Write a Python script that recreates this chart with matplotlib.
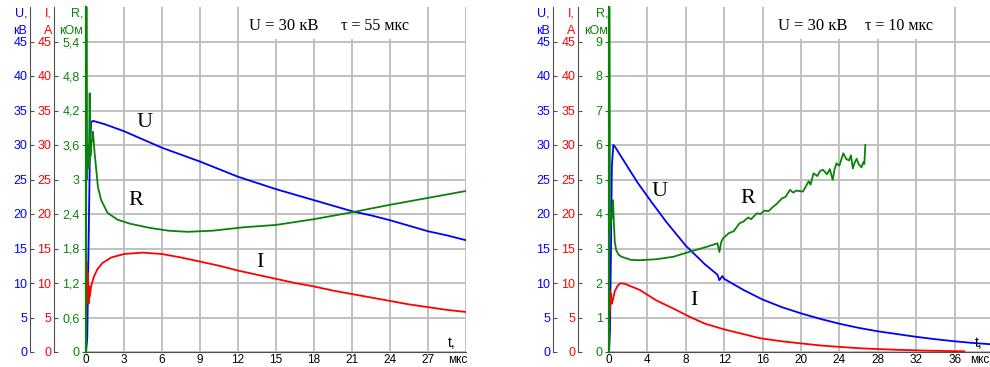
import matplotlib
matplotlib.use('Agg')
import matplotlib.pyplot as plt
from matplotlib.patches import Rectangle

plt.rcParams['font.family'] = ['Liberation Sans', 'DejaVu Sans']

# ---------------- data: left panel (tau = 55 us) ----------------
title1_a = "U = 30 кВ"
title1_b = "τ = 55 мкс"
t_u1 = [0, 0.1, 0.2, 0.3, 0.4, 0.55, 1.5, 3, 4.5, 6, 7.5, 9, 10.5, 12, 13.5, 15,
        16.5, 18, 19.5, 21, 22.5, 24, 25.5, 27, 28.5, 30]
u1 = [0, 2, 15, 28, 33.3, 33.5, 33.0, 32.0, 30.8, 29.6, 28.6, 27.6, 26.5, 25.4, 24.5, 23.6,
      22.8, 22.0, 21.2, 20.4, 19.8, 19.1, 18.3, 17.5, 16.9, 16.2]
t_i1 = [0, 0.05, 0.1, 0.15, 0.2, 0.25, 0.3, 0.4, 0.6, 0.9, 1.3, 2, 3, 4.5, 6, 7.5, 9,
        10.5, 12, 13.5, 15, 16.5, 18, 19.5, 21, 22.5, 24, 25.5, 27, 28.5, 30]
i1 = [0, 13, 8, 11.5, 7, 9.5, 8.0, 9.5, 10.8, 12.0, 12.9, 13.7, 14.2, 14.4, 14.2, 13.7, 13.1,
      12.5, 11.8, 11.2, 10.6, 10.0, 9.5, 8.9, 8.4, 7.9, 7.4, 6.9, 6.5, 6.1, 5.8]
t_r1 = [0, 0.03, 0.08, 0.15, 0.22, 0.29, 0.35, 0.42, 0.5, 0.55, 0.68, 0.81, 0.94, 1.2, 1.7,
        2.5, 3.5, 5, 6.5, 8, 10, 12.5, 15, 18, 21, 24, 27, 30]
r1 = [0, 7, 3.0, 3.6, 3.2, 4.5, 3.4, 3.63, 3.7, 3.83, 3.46, 3.17, 2.87, 2.64, 2.42,
      2.30, 2.23, 2.16, 2.11, 2.09, 2.11, 2.17, 2.21, 2.31, 2.43, 2.56, 2.68, 2.80]
r1_ticks = [0, 0.6, 1.2, 1.8, 2.4, 3.0, 3.6, 4.2, 4.8, 5.4]
r1_labels = ["0", "0,6", "1,2", "1,8", "2,4", "3", "3,6", "4,2", "4,8", "5,4"]
x1_ticks = [0, 3, 6, 9, 12, 15, 18, 21, 24, 27, 30]
x1_labels = ["0", "3", "6", "9", "12", "15", "18", "21", "24", "27", ""]

# ---------------- data: right panel (tau = 10 us) ----------------
title2_a = "U = 30 кВ"
title2_b = "τ = 10 мкс"
t_u2 = [0, 0.1, 0.2, 0.3, 0.45, 0.6, 1.5, 3, 4.5, 6, 8, 10, 11.3, 11.5, 11.8, 12, 14, 16,
        18, 20, 22, 24, 26, 28, 30, 32, 34, 36, 38, 40]
u2 = [0, 3, 14, 27, 30.0, 29.8, 27.8, 24.5, 21.6, 18.8, 15.4, 12.7, 11.2, 10.4, 11.0, 10.6,
      9.0, 7.6, 6.5, 5.6, 4.8, 4.1, 3.5, 3.0, 2.6, 2.2, 1.85, 1.55, 1.3, 1.1]
t_i2 = [0, 0.05, 0.1, 0.2, 0.28, 0.4, 0.6, 0.9, 1.15, 1.6, 3.2, 4.9, 6.7, 8.4, 10, 12.2,
        14, 15.7, 18, 19.9, 22, 23.7, 26, 27.9, 30, 33.1, 35, 37]
i2 = [0, 9, 6, 8.5, 7.0, 7.5, 8.8, 9.6, 9.95, 9.9, 9.0, 7.5, 6.3, 5.1, 4.1, 3.2,
      2.6, 2.0, 1.55, 1.26, 0.95, 0.77, 0.55, 0.43, 0.32, 0.2, 0.15, 0.1]
t_r2 = [0, 0.03, 0.1, 0.2, 0.3, 0.42, 0.5, 0.6, 0.75, 1.0, 1.3, 2.3, 3.2, 4.95, 6.7, 8.45,
        10.2, 11.3, 11.5, 11.7, 11.9, 12.5, 13.0, 13.3, 13.6, 14.0, 14.5, 14.8, 15.4, 15.8,
        16.2, 16.6, 17.1, 17.5, 18.0, 18.4, 18.85, 19.2, 19.5, 20.2, 20.5, 20.8, 21.0, 21.3,
        21.7, 22.0, 22.3, 22.7, 23.0, 23.3, 23.5, 23.7, 24.0, 24.4, 24.7, 25.0, 25.2, 25.4,
        25.6, 25.8, 26.0, 26.3, 26.5, 26.6, 26.7]
r2 = [0, 10.5, 3.5, 3.8, 3.9, 4.4, 3.8, 3.2, 2.95, 2.82, 2.76, 2.67, 2.66, 2.69, 2.76, 2.91,
      3.05, 3.15, 2.9, 3.2, 3.3, 3.45, 3.5, 3.62, 3.73, 3.78, 3.9, 3.85, 4.02, 4.0,
      4.1, 4.08, 4.21, 4.3, 4.45, 4.5, 4.7, 4.62, 4.68, 4.65, 4.8, 4.95, 4.85, 5.18,
      5.1, 5.25, 5.28, 5.15, 5.3, 4.99, 5.3, 5.47, 5.4, 5.76, 5.6, 5.55, 5.7, 5.32,
      5.5, 5.6, 5.45, 5.35, 5.5, 5.45, 6.0]
r2_ticks = [0, 1, 2, 3, 4, 5, 6, 7, 8, 9]
r2_labels = ["0", "1", "2", "3", "4", "5", "6", "7", "8", "9"]
x2_ticks = [0, 4, 8, 12, 16, 20, 24, 28, 32, 36, 40]
x2_labels = ["0", "4", "8", "12", "16", "20", "24", "28", "32", "36", ""]

ui_ticks = [0, 5, 10, 15, 20, 25, 30, 35, 40, 45]

# ---------------- style ----------------
BLUE = '#0000ff'
RED = '#ff0000'
GREEN = '#0a820a'
GRID = '#bcbcbc'
SPINE = '#505050'
W, H = 990, 367
DPI = 100

fig = plt.figure(figsize=(W / DPI, H / DPI), dpi=DPI)


def pt(px):
    return px * 72.0 / DPI


def fx(px):
    return px / W


def fy(py):
    return 1 - py / H


def panel(x0px, x1px, xmax, xticks, xlabels, t_u, u, t_i, i, t_r, r, rmax, rticks, rlabels,
          u_spine_px, i_spine_px, box, title_a, title_b, ta_x, tb_x, lab_pos):
    top_px, bot_px = 7, 352
    rect = [fx(x0px), fy(bot_px), (x1px - x0px) / W, (bot_px - top_px) / H]
    ax = fig.add_axes(rect)
    ax.set_xlim(0, xmax)
    ax.set_ylim(0, 50)
    ax.set_axisbelow(True)
    ax.set_xticks(xticks)
    ax.set_xticklabels(xlabels)
    ax.set_yticks(ui_ticks)
    ax.grid(True, color=GRID, lw=1.3)
    for s in ['top', 'right']:
        ax.spines[s].set_visible(False)
    ax.spines['bottom'].set_color(SPINE)
    ax.spines['left'].set_position(('outward', pt(x0px - u_spine_px)))
    ax.spines['left'].set_color(SPINE)
    ax.tick_params(axis='y', direction='in', length=3, pad=2, colors=SPINE,
                   labelcolor=BLUE, labelsize=9)
    ax.tick_params(axis='x', length=0, pad=1.5, labelsize=8.5, labelcolor='black')

    # white box behind the title
    ax.add_patch(Rectangle((box[0], 45.35), box[1] - box[0], 5.5, facecolor='white',
                           edgecolor='none', zorder=1, clip_on=False))

    ax.plot(t_u, u, color=BLUE, lw=1.3, zorder=3)
    ax.plot(t_i, i, color=RED, lw=1.3, zorder=3)

    # I axis
    axi = fig.add_axes(rect, sharex=ax)
    axi.patch.set_visible(False)
    axi.set_ylim(0, 50)
    axi.set_yticks(ui_ticks)
    for s in ['top', 'right', 'bottom']:
        axi.spines[s].set_visible(False)
    axi.spines['left'].set_position(('outward', pt(x0px - i_spine_px)))
    axi.spines['left'].set_color(SPINE)
    axi.tick_params(axis='y', direction='in', length=3, pad=2, colors=SPINE,
                    labelcolor=RED, labelsize=9)
    axi.xaxis.set_visible(False)
    axi.grid(False)

    # R axis
    axr = fig.add_axes(rect, sharex=ax)
    axr.patch.set_visible(False)
    axr.set_ylim(0, rmax)
    axr.set_yticks(rticks)
    axr.set_yticklabels(rlabels)
    for s in ['top', 'right', 'bottom']:
        axr.spines[s].set_visible(False)
    axr.spines['left'].set_color(GREEN)
    axr.spines['left'].set_linewidth(1.6)
    axr.tick_params(axis='y', direction='out', length=3, pad=1.5, colors=GREEN,
                    labelcolor=GREEN, labelsize=9)
    axr.xaxis.set_visible(False)
    axr.plot(t_r, r, color=GREEN, lw=1.3, zorder=3)

    # title
    ax.text(ta_x, 47.3, title_a, ha='center', va='center', fontsize=12,
            family=['Liberation Serif', 'DejaVu Serif'], zorder=5)
    ax.text(tb_x, 47.3, title_b, ha='center', va='center', fontsize=11.5,
            family=['Liberation Serif', 'DejaVu Serif'], zorder=5)

    # curve labels
    for txt, (tx, ty) in lab_pos.items():
        ax.text(tx, ty, txt, ha='center', va='center', fontsize=16,
                family=['Liberation Serif', 'DejaVu Serif'], zorder=5)
    return ax


panel(86, 466, 30, x1_ticks, x1_labels, t_u1, u1, t_i1, i1, t_r1, r1, 6.0, r1_ticks, r1_labels,
      30, 54, (12.15, 26.85), title1_a, title1_b, 15.6, 22.8,
      {'U': (4.65, 33.3), 'R': (3.94, 21.9), 'I': (13.7, 12.9)})
panel(609, 993, 40, x2_ticks, x2_labels, t_u2, u2, t_i2, i2, t_r2, r2, 10.0, r2_ticks, r2_labels,
      553, 578, (16.15, 35.85), title2_a, title2_b, 21.2, 30.2,
      {'U': (5.3, 23.3), 'R': (14.5, 22.3), 'I': (8.85, 7.4)})

# axis unit labels
units = [
    (27, "U,", "кВ", BLUE), (52, "I,", "A", RED), (83, "R,", "кОм", GREEN),
    (550, "U,", "кВ", BLUE), (575, "I,", "A", RED), (608, "R,", "кОм", GREEN),
]
for xr, a, b, c in units:
    fig.text(fx(xr), fy(13), a, ha='right', va='center', color=c, fontsize=9)
    fig.text(fx(xr), fy(31), b, ha='right', va='center', color=c, fontsize=9)

fig.text(fx(467), fy(360), "мкс", ha='right', va='center', fontsize=8.5)
fig.text(fx(989), fy(360), "мкс", ha='right', va='center', fontsize=8.5)
fig.text(fx(452), fy(343), "t,", ha='center', va='center', fontsize=10)
fig.text(fx(979), fy(343), "t,", ha='center', va='center', fontsize=10)

fig.savefig('out.png', dpi=DPI, facecolor='white')
